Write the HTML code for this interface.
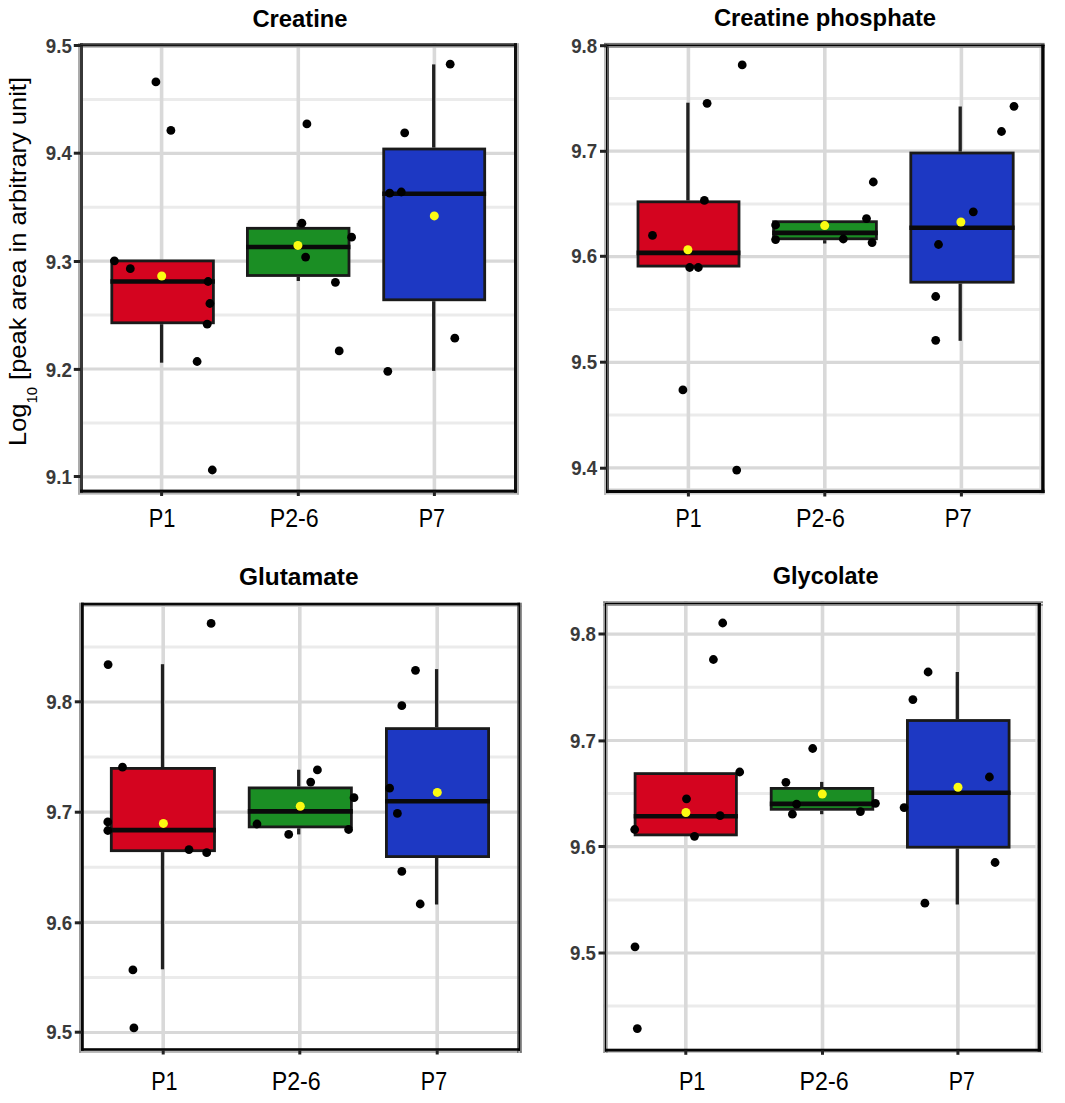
<!DOCTYPE html><html><head><meta charset="utf-8"><style>html,body{margin:0;padding:0;background:#fff;}svg{display:block;}text{font-family:"Liberation Sans",sans-serif;}</style></head><body>
<svg width="1065" height="1103" viewBox="0 0 1065 1103">
<rect x="0" y="0" width="1065" height="1103" fill="#fff"/>
<g stroke="#dedede" fill="none">
<line x1="80" y1="476.9" x2="517" y2="476.9" stroke="#d8d8d8" stroke-width="3.2"/>
<line x1="80" y1="423" x2="517" y2="423" stroke="#ebebeb" stroke-width="3"/>
<line x1="80" y1="369" x2="517" y2="369" stroke="#d8d8d8" stroke-width="3.2"/>
<line x1="80" y1="315.1" x2="517" y2="315.1" stroke="#ebebeb" stroke-width="3"/>
<line x1="80" y1="261.2" x2="517" y2="261.2" stroke="#d8d8d8" stroke-width="3.2"/>
<line x1="80" y1="207.3" x2="517" y2="207.3" stroke="#ebebeb" stroke-width="3"/>
<line x1="80" y1="153.4" x2="517" y2="153.4" stroke="#d8d8d8" stroke-width="3.2"/>
<line x1="80" y1="99.5" x2="517" y2="99.5" stroke="#ebebeb" stroke-width="3"/>
<line x1="80" y1="45.6" x2="517" y2="45.6" stroke="#d8d8d8" stroke-width="3.2"/>
<line x1="161.6" y1="43" x2="161.6" y2="493" stroke="#d9d9d9" stroke-width="3.6"/>
<line x1="298.3" y1="43" x2="298.3" y2="493" stroke="#d9d9d9" stroke-width="3.6"/>
<line x1="434.4" y1="43" x2="434.4" y2="493" stroke="#d9d9d9" stroke-width="3.6"/>
</g>
<line x1="161.6" y1="324.2" x2="161.6" y2="362.7" stroke="#202020" stroke-width="3.3"/>
<rect x="111.8" y="260.9" width="101.6" height="61.9" fill="#d4041f" stroke="#1a1a1a" stroke-width="2.8"/>
<line x1="110.4" y1="281.5" x2="214.8" y2="281.5" stroke="#0a0a0a" stroke-width="4.6"/>
<line x1="298.3" y1="223" x2="298.3" y2="226.9" stroke="#202020" stroke-width="3.3"/>
<line x1="298.3" y1="276.9" x2="298.3" y2="281" stroke="#202020" stroke-width="3.3"/>
<rect x="247.4" y="228.3" width="101.6" height="47.2" fill="#1b8e24" stroke="#1a1a1a" stroke-width="2.8"/>
<line x1="246" y1="247" x2="350.4" y2="247" stroke="#0a0a0a" stroke-width="4.6"/>
<line x1="433.7" y1="64.4" x2="433.7" y2="147.6" stroke="#202020" stroke-width="3.3"/>
<line x1="433.7" y1="301.2" x2="433.7" y2="370.9" stroke="#202020" stroke-width="3.3"/>
<rect x="383.7" y="149" width="101" height="150.8" fill="#1d38c3" stroke="#1a1a1a" stroke-width="2.8"/>
<line x1="382.3" y1="193.7" x2="486.1" y2="193.7" stroke="#0a0a0a" stroke-width="4.6"/>
<g fill="#000">
<circle cx="155.9" cy="81.9" r="4.4"/>
<circle cx="170.9" cy="130.4" r="4.4"/>
<circle cx="114.4" cy="260.8" r="4.4"/>
<circle cx="130.3" cy="268.7" r="4.4"/>
<circle cx="208.1" cy="281.5" r="4.4"/>
<circle cx="209.9" cy="303.5" r="4.4"/>
<circle cx="207.2" cy="324.2" r="4.4"/>
<circle cx="197.1" cy="361.5" r="4.4"/>
<circle cx="212.3" cy="470" r="4.4"/>
<circle cx="306.9" cy="123.9" r="4.4"/>
<circle cx="301.9" cy="223.2" r="4.4"/>
<circle cx="351.6" cy="237.2" r="4.4"/>
<circle cx="305.6" cy="257.1" r="4.4"/>
<circle cx="335.4" cy="282.3" r="4.4"/>
<circle cx="339.2" cy="350.9" r="4.4"/>
<circle cx="450.2" cy="64.2" r="4.4"/>
<circle cx="404.7" cy="132.8" r="4.4"/>
<circle cx="389.7" cy="193.2" r="4.4"/>
<circle cx="401.3" cy="192" r="4.4"/>
<circle cx="454.8" cy="338.2" r="4.4"/>
<circle cx="387.8" cy="371.3" r="4.4"/>
</g>
<circle cx="161.7" cy="276" r="4.5" fill="#fbfb12"/>
<circle cx="297.9" cy="245.4" r="4.5" fill="#fbfb12"/>
<circle cx="434.3" cy="215.9" r="4.5" fill="#fbfb12"/>
<rect x="78" y="492.7" width="441" height="1.9" fill="#b4b4b4"/>
<rect x="517" y="43.2" width="2" height="451.4" fill="#b0b0b0"/>
<rect x="78" y="43.2" width="2" height="451.4" fill="#ababab"/>
<rect x="78" y="46.3" width="441" height="1.4" fill="#ababab"/>
<rect x="80" y="43.2" width="437" height="1.8" fill="#3c3c3c"/>
<rect x="80" y="43.2" width="3" height="449.5" fill="#383838"/>
<rect x="80" y="45" width="437" height="1.3" fill="#151515"/>
<rect x="514" y="43.2" width="3" height="449.5" fill="#111111"/>
<rect x="80" y="489.6" width="437" height="3.1" fill="#060606"/>
<line x1="73.8" y1="45.5" x2="80.8" y2="45.5" stroke="#222" stroke-width="3"/>
<text x="71.8" y="52.6" font-size="20.5" font-weight="bold" fill="#3a3a3a" text-anchor="end" textLength="26" lengthAdjust="spacingAndGlyphs">9.5</text>
<line x1="73.8" y1="153.2" x2="80.8" y2="153.2" stroke="#222" stroke-width="3"/>
<text x="71.8" y="160.3" font-size="20.5" font-weight="bold" fill="#3a3a3a" text-anchor="end" textLength="26" lengthAdjust="spacingAndGlyphs">9.4</text>
<line x1="73.8" y1="261.5" x2="80.8" y2="261.5" stroke="#222" stroke-width="3"/>
<text x="71.8" y="268.6" font-size="20.5" font-weight="bold" fill="#3a3a3a" text-anchor="end" textLength="26" lengthAdjust="spacingAndGlyphs">9.3</text>
<line x1="73.8" y1="369.4" x2="80.8" y2="369.4" stroke="#222" stroke-width="3"/>
<text x="71.8" y="376.5" font-size="20.5" font-weight="bold" fill="#3a3a3a" text-anchor="end" textLength="26" lengthAdjust="spacingAndGlyphs">9.2</text>
<line x1="73.8" y1="476.5" x2="80.8" y2="476.5" stroke="#222" stroke-width="3"/>
<text x="71.8" y="483.6" font-size="20.5" font-weight="bold" fill="#3a3a3a" text-anchor="end" textLength="26" lengthAdjust="spacingAndGlyphs">9.1</text>
<line x1="161.6" y1="491.5" x2="161.6" y2="496" stroke="#222" stroke-width="3"/>
<text x="148.8" y="526.9" font-size="25" fill="#000" textLength="26.7" lengthAdjust="spacingAndGlyphs">P1</text>
<line x1="298.3" y1="491.5" x2="298.3" y2="496" stroke="#222" stroke-width="3"/>
<text x="269.7" y="526.9" font-size="25" fill="#000" textLength="49" lengthAdjust="spacingAndGlyphs">P2-6</text>
<line x1="434.4" y1="491.5" x2="434.4" y2="496" stroke="#222" stroke-width="3"/>
<text x="418.7" y="526.9" font-size="25" fill="#000" textLength="26.4" lengthAdjust="spacingAndGlyphs">P7</text>
<text x="252.4" y="26.9" font-size="24" font-weight="bold" fill="#000" textLength="95.2" lengthAdjust="spacingAndGlyphs">Creatine</text>
<g stroke="#dedede" fill="none">
<line x1="606" y1="467.9" x2="1044" y2="467.9" stroke="#d8d8d8" stroke-width="3.2"/>
<line x1="606" y1="415.1" x2="1044" y2="415.1" stroke="#ebebeb" stroke-width="3"/>
<line x1="606" y1="362.3" x2="1044" y2="362.3" stroke="#d8d8d8" stroke-width="3.2"/>
<line x1="606" y1="309.5" x2="1044" y2="309.5" stroke="#ebebeb" stroke-width="3"/>
<line x1="606" y1="256.7" x2="1044" y2="256.7" stroke="#d8d8d8" stroke-width="3.2"/>
<line x1="606" y1="203.9" x2="1044" y2="203.9" stroke="#ebebeb" stroke-width="3"/>
<line x1="606" y1="151.1" x2="1044" y2="151.1" stroke="#d8d8d8" stroke-width="3.2"/>
<line x1="606" y1="98.4" x2="1044" y2="98.4" stroke="#ebebeb" stroke-width="3"/>
<line x1="606" y1="45.6" x2="1044" y2="45.6" stroke="#d8d8d8" stroke-width="3.2"/>
<line x1="688.4" y1="43" x2="688.4" y2="493" stroke="#d9d9d9" stroke-width="3.6"/>
<line x1="824.8" y1="43" x2="824.8" y2="493" stroke="#d9d9d9" stroke-width="3.6"/>
<line x1="961.4" y1="43" x2="961.4" y2="493" stroke="#d9d9d9" stroke-width="3.6"/>
</g>
<line x1="687.9" y1="102.7" x2="687.9" y2="200.4" stroke="#202020" stroke-width="3.3"/>
<rect x="638" y="201.8" width="101" height="64.3" fill="#d4041f" stroke="#1a1a1a" stroke-width="2.8"/>
<line x1="636.6" y1="252.9" x2="740.4" y2="252.9" stroke="#0a0a0a" stroke-width="4.6"/>
<line x1="824.7" y1="240.2" x2="824.7" y2="243.5" stroke="#202020" stroke-width="3.3"/>
<rect x="773.6" y="221.7" width="102.8" height="17.1" fill="#1b8e24" stroke="#1a1a1a" stroke-width="2.8"/>
<line x1="772.2" y1="232.9" x2="877.8" y2="232.9" stroke="#0a0a0a" stroke-width="4.6"/>
<line x1="960.2" y1="106.5" x2="960.2" y2="151.6" stroke="#202020" stroke-width="3.3"/>
<line x1="960.2" y1="283.6" x2="960.2" y2="340.8" stroke="#202020" stroke-width="3.3"/>
<rect x="910.8" y="153" width="102.4" height="129.2" fill="#1d38c3" stroke="#1a1a1a" stroke-width="2.8"/>
<line x1="909.4" y1="227.8" x2="1014.6" y2="227.8" stroke="#0a0a0a" stroke-width="4.6"/>
<g fill="#000">
<circle cx="742.2" cy="64.9" r="4.4"/>
<circle cx="707.1" cy="103.3" r="4.4"/>
<circle cx="704.4" cy="200.4" r="4.4"/>
<circle cx="652.5" cy="235.4" r="4.4"/>
<circle cx="689.7" cy="267.5" r="4.4"/>
<circle cx="698.3" cy="267.5" r="4.4"/>
<circle cx="682.9" cy="389.9" r="4.4"/>
<circle cx="736.7" cy="470.1" r="4.4"/>
<circle cx="873.3" cy="182" r="4.4"/>
<circle cx="866.5" cy="218.6" r="4.4"/>
<circle cx="775.6" cy="225" r="4.4"/>
<circle cx="775.6" cy="239.6" r="4.4"/>
<circle cx="843.3" cy="239" r="4.4"/>
<circle cx="872.1" cy="242.6" r="4.4"/>
<circle cx="1014" cy="106.3" r="4.4"/>
<circle cx="1001.5" cy="131.5" r="4.4"/>
<circle cx="973.3" cy="211.8" r="4.4"/>
<circle cx="938.5" cy="244.5" r="4.4"/>
<circle cx="935.7" cy="296.5" r="4.4"/>
<circle cx="935.7" cy="340.3" r="4.4"/>
</g>
<circle cx="687.9" cy="249.8" r="4.5" fill="#fbfb12"/>
<circle cx="824.7" cy="225.6" r="4.5" fill="#fbfb12"/>
<circle cx="960.9" cy="222" r="4.5" fill="#fbfb12"/>
<rect x="604" y="493.1" width="440.6" height="1.9" fill="#e4e4e4"/>
<rect x="1039.3" y="42.9" width="1.9" height="452.1" fill="#dddddd"/>
<rect x="604" y="488.3" width="440.6" height="1.6" fill="#dddddd"/>
<rect x="604" y="42.9" width="2" height="452.1" fill="#bbbbbb"/>
<rect x="604" y="46" width="440.6" height="1.8" fill="#888888"/>
<rect x="604" y="42.9" width="440.6" height="1.7" fill="#777777"/>
<rect x="607.4" y="44.6" width="1.6" height="448.5" fill="#555555"/>
<rect x="1041.2" y="44.6" width="3.4" height="448.5" fill="#050505"/>
<rect x="606" y="489.9" width="438.6" height="3.2" fill="#050505"/>
<rect x="606" y="44.6" width="1.4" height="448.5" fill="#000000"/>
<rect x="606" y="44.6" width="438.6" height="1.4" fill="#000000"/>
<line x1="600" y1="45.7" x2="607" y2="45.7" stroke="#222" stroke-width="3"/>
<text x="597.2" y="52.8" font-size="20.5" font-weight="bold" fill="#3a3a3a" text-anchor="end" textLength="26" lengthAdjust="spacingAndGlyphs">9.8</text>
<line x1="600" y1="151.3" x2="607" y2="151.3" stroke="#222" stroke-width="3"/>
<text x="597.2" y="158.4" font-size="20.5" font-weight="bold" fill="#3a3a3a" text-anchor="end" textLength="26" lengthAdjust="spacingAndGlyphs">9.7</text>
<line x1="600" y1="256.3" x2="607" y2="256.3" stroke="#222" stroke-width="3"/>
<text x="597.2" y="263.4" font-size="20.5" font-weight="bold" fill="#3a3a3a" text-anchor="end" textLength="26" lengthAdjust="spacingAndGlyphs">9.6</text>
<line x1="600" y1="362.2" x2="607" y2="362.2" stroke="#222" stroke-width="3"/>
<text x="597.2" y="369.3" font-size="20.5" font-weight="bold" fill="#3a3a3a" text-anchor="end" textLength="26" lengthAdjust="spacingAndGlyphs">9.5</text>
<line x1="600" y1="468.2" x2="607" y2="468.2" stroke="#222" stroke-width="3"/>
<text x="597.2" y="475.3" font-size="20.5" font-weight="bold" fill="#3a3a3a" text-anchor="end" textLength="26" lengthAdjust="spacingAndGlyphs">9.4</text>
<line x1="688.4" y1="492" x2="688.4" y2="496.5" stroke="#222" stroke-width="3"/>
<text x="675.6" y="526.7" font-size="25" fill="#000" textLength="26.1" lengthAdjust="spacingAndGlyphs">P1</text>
<line x1="824.8" y1="492" x2="824.8" y2="496.5" stroke="#222" stroke-width="3"/>
<text x="796" y="526.7" font-size="25" fill="#000" textLength="49" lengthAdjust="spacingAndGlyphs">P2-6</text>
<line x1="961.4" y1="492" x2="961.4" y2="496.5" stroke="#222" stroke-width="3"/>
<text x="944.8" y="526.7" font-size="25" fill="#000" textLength="27" lengthAdjust="spacingAndGlyphs">P7</text>
<text x="713.9" y="26.3" font-size="24" font-weight="bold" fill="#000" textLength="222.2" lengthAdjust="spacingAndGlyphs">Creatine phosphate</text>
<g stroke="#dedede" fill="none">
<line x1="81" y1="1032.5" x2="521" y2="1032.5" stroke="#d8d8d8" stroke-width="3.2"/>
<line x1="81" y1="977.4" x2="521" y2="977.4" stroke="#ebebeb" stroke-width="3"/>
<line x1="81" y1="922.3" x2="521" y2="922.3" stroke="#d8d8d8" stroke-width="3.2"/>
<line x1="81" y1="867.2" x2="521" y2="867.2" stroke="#ebebeb" stroke-width="3"/>
<line x1="81" y1="812.2" x2="521" y2="812.2" stroke="#d8d8d8" stroke-width="3.2"/>
<line x1="81" y1="757.1" x2="521" y2="757.1" stroke="#ebebeb" stroke-width="3"/>
<line x1="81" y1="702" x2="521" y2="702" stroke="#d8d8d8" stroke-width="3.2"/>
<line x1="81" y1="646.9" x2="521" y2="646.9" stroke="#ebebeb" stroke-width="3"/>
<line x1="163.2" y1="603" x2="163.2" y2="1050" stroke="#d9d9d9" stroke-width="3.6"/>
<line x1="299.8" y1="603" x2="299.8" y2="1050" stroke="#d9d9d9" stroke-width="3.6"/>
<line x1="437.2" y1="603" x2="437.2" y2="1050" stroke="#d9d9d9" stroke-width="3.6"/>
</g>
<line x1="162.5" y1="664.2" x2="162.5" y2="767" stroke="#202020" stroke-width="3.3"/>
<line x1="162.5" y1="852.1" x2="162.5" y2="969.3" stroke="#202020" stroke-width="3.3"/>
<rect x="111.3" y="768.4" width="103.2" height="82.3" fill="#d4041f" stroke="#1a1a1a" stroke-width="2.8"/>
<line x1="109.9" y1="830.1" x2="215.9" y2="830.1" stroke="#0a0a0a" stroke-width="4.6"/>
<line x1="298.7" y1="769.7" x2="298.7" y2="786.5" stroke="#202020" stroke-width="3.3"/>
<line x1="298.7" y1="828.3" x2="298.7" y2="834.4" stroke="#202020" stroke-width="3.3"/>
<rect x="249.2" y="787.9" width="102.2" height="39" fill="#1b8e24" stroke="#1a1a1a" stroke-width="2.8"/>
<line x1="247.8" y1="811.4" x2="352.8" y2="811.4" stroke="#0a0a0a" stroke-width="4.6"/>
<line x1="436.6" y1="669.1" x2="436.6" y2="727.2" stroke="#202020" stroke-width="3.3"/>
<line x1="436.6" y1="858" x2="436.6" y2="904.5" stroke="#202020" stroke-width="3.3"/>
<rect x="386.4" y="728.6" width="102.2" height="128" fill="#1d38c3" stroke="#1a1a1a" stroke-width="2.8"/>
<line x1="385" y1="801.2" x2="490" y2="801.2" stroke="#0a0a0a" stroke-width="4.6"/>
<g fill="#000">
<circle cx="211.1" cy="623.4" r="4.4"/>
<circle cx="108.1" cy="664.6" r="4.4"/>
<circle cx="122.5" cy="767.2" r="4.4"/>
<circle cx="107.8" cy="821.9" r="4.4"/>
<circle cx="107.8" cy="830.5" r="4.4"/>
<circle cx="189" cy="849.6" r="4.4"/>
<circle cx="206.7" cy="852.7" r="4.4"/>
<circle cx="132.9" cy="969.9" r="4.4"/>
<circle cx="133.9" cy="1027.9" r="4.4"/>
<circle cx="317.4" cy="769.9" r="4.4"/>
<circle cx="310.7" cy="782.1" r="4.4"/>
<circle cx="354" cy="797.7" r="4.4"/>
<circle cx="257" cy="824" r="4.4"/>
<circle cx="348.6" cy="829.5" r="4.4"/>
<circle cx="288.7" cy="834.4" r="4.4"/>
<circle cx="415.5" cy="670.3" r="4.4"/>
<circle cx="401.8" cy="705.7" r="4.4"/>
<circle cx="389.6" cy="788.2" r="4.4"/>
<circle cx="397.4" cy="813.4" r="4.4"/>
<circle cx="401.8" cy="871.4" r="4.4"/>
<circle cx="420.2" cy="904" r="4.4"/>
</g>
<circle cx="163.4" cy="823.4" r="4.5" fill="#fbfb12"/>
<circle cx="300.3" cy="806.3" r="4.5" fill="#fbfb12"/>
<circle cx="437.3" cy="792.4" r="4.5" fill="#fbfb12"/>
<rect x="79" y="605.5" width="442.8" height="1.5" fill="#cccccc"/>
<rect x="79" y="1050.8" width="442.8" height="2.1" fill="#b5b5b5"/>
<rect x="79" y="602.7" width="2" height="450.2" fill="#999999"/>
<rect x="520" y="602.7" width="1.8" height="450.2" fill="#777777"/>
<rect x="517.1" y="602.7" width="1.3" height="450.2" fill="#666666"/>
<rect x="81" y="602.7" width="439" height="2.8" fill="#0a0a0a"/>
<rect x="81" y="602.7" width="2.8" height="448.1" fill="#080808"/>
<rect x="81" y="1048.2" width="439" height="2.6" fill="#050505"/>
<rect x="518.4" y="602.7" width="1.6" height="448.1" fill="#000000"/>
<line x1="74.8" y1="701.8" x2="81.8" y2="701.8" stroke="#222" stroke-width="3"/>
<text x="72.2" y="708.9" font-size="20.5" font-weight="bold" fill="#3a3a3a" text-anchor="end" textLength="26" lengthAdjust="spacingAndGlyphs">9.8</text>
<line x1="74.8" y1="812.2" x2="81.8" y2="812.2" stroke="#222" stroke-width="3"/>
<text x="72.2" y="819.3" font-size="20.5" font-weight="bold" fill="#3a3a3a" text-anchor="end" textLength="26" lengthAdjust="spacingAndGlyphs">9.7</text>
<line x1="74.8" y1="922.8" x2="81.8" y2="922.8" stroke="#222" stroke-width="3"/>
<text x="72.2" y="929.9" font-size="20.5" font-weight="bold" fill="#3a3a3a" text-anchor="end" textLength="26" lengthAdjust="spacingAndGlyphs">9.6</text>
<line x1="74.8" y1="1032.2" x2="81.8" y2="1032.2" stroke="#222" stroke-width="3"/>
<text x="72.2" y="1039.3" font-size="20.5" font-weight="bold" fill="#3a3a3a" text-anchor="end" textLength="26" lengthAdjust="spacingAndGlyphs">9.5</text>
<line x1="163.2" y1="1050" x2="163.2" y2="1054.5" stroke="#222" stroke-width="3"/>
<text x="151.2" y="1089.8" font-size="25" fill="#000" textLength="26.4" lengthAdjust="spacingAndGlyphs">P1</text>
<line x1="299.8" y1="1050" x2="299.8" y2="1054.5" stroke="#222" stroke-width="3"/>
<text x="271.7" y="1089.8" font-size="25" fill="#000" textLength="49" lengthAdjust="spacingAndGlyphs">P2-6</text>
<line x1="437.2" y1="1050" x2="437.2" y2="1054.5" stroke="#222" stroke-width="3"/>
<text x="420.8" y="1089.8" font-size="25" fill="#000" textLength="26.3" lengthAdjust="spacingAndGlyphs">P7</text>
<text x="238.9" y="584.8" font-size="24" font-weight="bold" fill="#000" textLength="119.6" lengthAdjust="spacingAndGlyphs">Glutamate</text>
<g stroke="#dedede" fill="none">
<line x1="603" y1="1006.1" x2="1041" y2="1006.1" stroke="#ebebeb" stroke-width="3"/>
<line x1="603" y1="953" x2="1041" y2="953" stroke="#d8d8d8" stroke-width="3.2"/>
<line x1="603" y1="899.9" x2="1041" y2="899.9" stroke="#ebebeb" stroke-width="3"/>
<line x1="603" y1="846.7" x2="1041" y2="846.7" stroke="#d8d8d8" stroke-width="3.2"/>
<line x1="603" y1="793.6" x2="1041" y2="793.6" stroke="#ebebeb" stroke-width="3"/>
<line x1="603" y1="740.5" x2="1041" y2="740.5" stroke="#d8d8d8" stroke-width="3.2"/>
<line x1="603" y1="687.3" x2="1041" y2="687.3" stroke="#ebebeb" stroke-width="3"/>
<line x1="603" y1="634.2" x2="1041" y2="634.2" stroke="#d8d8d8" stroke-width="3.2"/>
<line x1="685.8" y1="601" x2="685.8" y2="1051" stroke="#d9d9d9" stroke-width="3.6"/>
<line x1="822.5" y1="601" x2="822.5" y2="1051" stroke="#d9d9d9" stroke-width="3.6"/>
<line x1="957.9" y1="601" x2="957.9" y2="1051" stroke="#d9d9d9" stroke-width="3.6"/>
</g>
<rect x="635.1" y="773.6" width="101.3" height="61.3" fill="#d4041f" stroke="#1a1a1a" stroke-width="2.8"/>
<line x1="633.7" y1="816.2" x2="737.8" y2="816.2" stroke="#0a0a0a" stroke-width="4.6"/>
<line x1="821.7" y1="781.9" x2="821.7" y2="787" stroke="#202020" stroke-width="3.3"/>
<line x1="821.7" y1="810.7" x2="821.7" y2="814.2" stroke="#202020" stroke-width="3.3"/>
<rect x="771.2" y="788.4" width="101.6" height="20.9" fill="#1b8e24" stroke="#1a1a1a" stroke-width="2.8"/>
<line x1="769.8" y1="803.9" x2="874.2" y2="803.9" stroke="#0a0a0a" stroke-width="4.6"/>
<line x1="957.3" y1="672" x2="957.3" y2="719.1" stroke="#202020" stroke-width="3.3"/>
<line x1="957.3" y1="848.6" x2="957.3" y2="904.5" stroke="#202020" stroke-width="3.3"/>
<rect x="907.4" y="720.5" width="101.7" height="126.7" fill="#1d38c3" stroke="#1a1a1a" stroke-width="2.8"/>
<line x1="906" y1="792.8" x2="1010.5" y2="792.8" stroke="#0a0a0a" stroke-width="4.6"/>
<g fill="#000">
<circle cx="722.7" cy="623" r="4.4"/>
<circle cx="713.4" cy="659.5" r="4.4"/>
<circle cx="739.7" cy="772" r="4.4"/>
<circle cx="686.5" cy="798.8" r="4.4"/>
<circle cx="720.1" cy="815.6" r="4.4"/>
<circle cx="634.7" cy="829.5" r="4.4"/>
<circle cx="694.5" cy="836.3" r="4.4"/>
<circle cx="635" cy="946.8" r="4.4"/>
<circle cx="637.3" cy="1028.6" r="4.4"/>
<circle cx="812.7" cy="748.5" r="4.4"/>
<circle cx="785.9" cy="782.3" r="4.4"/>
<circle cx="796.6" cy="804.2" r="4.4"/>
<circle cx="792.4" cy="814.2" r="4.4"/>
<circle cx="860.4" cy="811.6" r="4.4"/>
<circle cx="875.4" cy="803.3" r="4.4"/>
<circle cx="928.1" cy="672" r="4.4"/>
<circle cx="912.9" cy="699.6" r="4.4"/>
<circle cx="989.4" cy="777" r="4.4"/>
<circle cx="904.1" cy="807.6" r="4.4"/>
<circle cx="995.1" cy="862.5" r="4.4"/>
<circle cx="924.9" cy="903.2" r="4.4"/>
</g>
<circle cx="685.9" cy="812.5" r="4.5" fill="#fbfb12"/>
<circle cx="822.3" cy="794.1" r="4.5" fill="#fbfb12"/>
<circle cx="958" cy="787.2" r="4.5" fill="#fbfb12"/>
<rect x="1035.4" y="601.3" width="2.2" height="451.7" fill="#e5e5e5"/>
<rect x="1040.9" y="601.3" width="2.1" height="451.7" fill="#e0e0e0"/>
<rect x="603.2" y="1051.6" width="439.8" height="1.4" fill="#c8c8c8"/>
<rect x="603.2" y="601.3" width="1.7" height="451.7" fill="#999999"/>
<rect x="606" y="601.3" width="1.7" height="451.7" fill="#999999"/>
<rect x="603.2" y="601.3" width="439.8" height="1.7" fill="#888888"/>
<rect x="603.2" y="604.1" width="439.8" height="1.7" fill="#888888"/>
<rect x="1037.6" y="603" width="3.3" height="448.6" fill="#050505"/>
<rect x="604.9" y="1048.7" width="436" height="2.9" fill="#050505"/>
<rect x="604.9" y="603" width="1.1" height="448.6" fill="#000000"/>
<rect x="604.9" y="603" width="436" height="1.1" fill="#000000"/>
<line x1="598.5" y1="634" x2="605.5" y2="634" stroke="#222" stroke-width="3"/>
<text x="596" y="641.1" font-size="20.5" font-weight="bold" fill="#3a3a3a" text-anchor="end" textLength="26" lengthAdjust="spacingAndGlyphs">9.8</text>
<line x1="598.5" y1="740.9" x2="605.5" y2="740.9" stroke="#222" stroke-width="3"/>
<text x="596" y="748" font-size="20.5" font-weight="bold" fill="#3a3a3a" text-anchor="end" textLength="26" lengthAdjust="spacingAndGlyphs">9.7</text>
<line x1="598.5" y1="846.5" x2="605.5" y2="846.5" stroke="#222" stroke-width="3"/>
<text x="596" y="853.6" font-size="20.5" font-weight="bold" fill="#3a3a3a" text-anchor="end" textLength="26" lengthAdjust="spacingAndGlyphs">9.6</text>
<line x1="598.5" y1="953" x2="605.5" y2="953" stroke="#222" stroke-width="3"/>
<text x="596" y="960.1" font-size="20.5" font-weight="bold" fill="#3a3a3a" text-anchor="end" textLength="26" lengthAdjust="spacingAndGlyphs">9.5</text>
<line x1="685.8" y1="1050.3" x2="685.8" y2="1054.8" stroke="#222" stroke-width="3"/>
<text x="678.9" y="1089.8" font-size="25" fill="#000" textLength="26.5" lengthAdjust="spacingAndGlyphs">P1</text>
<line x1="822.5" y1="1050.3" x2="822.5" y2="1054.8" stroke="#222" stroke-width="3"/>
<text x="799.6" y="1089.8" font-size="25" fill="#000" textLength="49" lengthAdjust="spacingAndGlyphs">P2-6</text>
<line x1="957.9" y1="1050.3" x2="957.9" y2="1054.8" stroke="#222" stroke-width="3"/>
<text x="948.7" y="1089.8" font-size="25" fill="#000" textLength="26.1" lengthAdjust="spacingAndGlyphs">P7</text>
<text x="772.8" y="584.3" font-size="24" font-weight="bold" fill="#000" textLength="105.7" lengthAdjust="spacingAndGlyphs">Glycolate</text>
<text transform="translate(26,446) rotate(-90)" font-size="24" fill="#000" textLength="369" lengthAdjust="spacingAndGlyphs">Log<tspan font-size="14" dy="11">10</tspan><tspan dy="-11"> [peak area in arbitrary unit]</tspan></text>
</svg></body></html>
